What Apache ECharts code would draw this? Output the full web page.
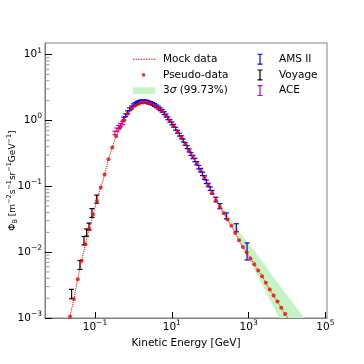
<!DOCTYPE html>
<html>
<head>
<meta charset="utf-8">
<script src="https://cdn.jsdelivr.net/npm/echarts@6/dist/echarts.min.js"></script>
<style>
html, body { margin: 0; padding: 0; background: #fff; }
#chart { width: 364px; height: 364px; }
</style>
</head>
<body>
<div id="chart"></div>
<script>
// model curve / pseudo-data energies [GeV]
const energy = [0.0224, 0.0282, 0.0355, 0.0447, 0.0562, 0.0708, 0.0891, 0.112, 0.141, 0.178,
  0.224, 0.282, 0.355, 0.447, 0.562, 0.708, 0.891, 1.12, 1.41, 1.78,
  2.24, 2.82, 3.55, 4.47, 5.62, 7.08, 8.91, 11.2, 14.1, 17.8,
  22.4, 28.2, 35.5, 44.7, 56.2, 70.8, 89.1, 112, 141, 178,
  224, 282, 355, 447, 562, 708, 891, 1120, 1410, 1780,
  2240, 2820, 3550, 4470, 5620, 7080, 8910, 11200, 17800, 31600];
const mockFlux = [1.05e-3, 1.95e-3, 3.89e-3, 7.41e-3, 0.0132, 0.0224, 0.0372, 0.0603, 0.0955, 0.151,
  0.257, 0.389, 0.575, 0.776, 1.00, 1.26, 1.50, 1.68, 1.80, 1.87,
  1.86, 1.79, 1.67, 1.53, 1.38, 1.19, 0.989, 0.822, 0.676, 0.550,
  0.437, 0.347, 0.279, 0.221, 0.174, 0.135, 0.104, 0.0794, 0.0610, 0.0484,
  0.0389, 0.0313, 0.0251, 0.0195, 0.0151, 0.0120, 9.89e-3, 8.04e-3, 6.53e-3, 5.25e-3,
  4.32e-3, 3.43e-3, 2.72e-3, 2.19e-3, 1.78e-3, 1.43e-3, 1.15e-3, 9.33e-4, 6.17e-4, 3.63e-4];
// pseudo-data sits on the mock curve up to ~11 TeV
const pseudoEnergy = energy.slice(0, 58);
const pseudoFlux = mockFlux.slice(0, 58);
// 3 sigma band
const bandHigh = [1.08e-3, 2.00e-3, 4.00e-3, 7.62e-3, 0.0136, 0.0230, 0.0382, 0.0619, 0.0982, 0.155,
  0.264, 0.400, 0.591, 0.798, 1.03, 1.30, 1.54, 1.73, 1.85, 1.92,
  1.91, 1.84, 1.72, 1.57, 1.42, 1.22, 1.02, 0.845, 0.695, 0.565,
  0.449, 0.357, 0.287, 0.227, 0.179, 0.139, 0.107, 0.0816, 0.0646, 0.0531,
  0.0447, 0.0376, 0.0316, 0.0257, 0.0209, 0.0172, 0.0146, 0.0123, 0.0104, 8.61e-3,
  7.33e-3, 6.03e-3, 4.95e-3, 4.12e-3, 3.47e-3, 2.88e-3, 2.40e-3, 2.02e-3, 1.43e-3, 9.12e-4];
const bandLow = [1.02e-3, 1.90e-3, 3.78e-3, 7.21e-3, 0.0128, 0.0218, 0.0361, 0.0586, 0.0929, 0.147,
  0.250, 0.378, 0.559, 0.755, 0.973, 1.23, 1.46, 1.63, 1.75, 1.82,
  1.81, 1.74, 1.62, 1.49, 1.34, 1.16, 0.962, 0.800, 0.658, 0.535,
  0.425, 0.338, 0.271, 0.215, 0.169, 0.131, 0.101, 0.0772, 0.0593, 0.0470,
  0.0377, 0.0302, 0.0242, 0.0187, 0.0144, 0.0112, 8.81e-3, 6.92e-3, 5.37e-3, 4.17e-3,
  3.27e-3, 2.48e-3, 1.91e-3, 1.46e-3, 1.15e-3, 8.81e-4, 6.76e-4, 5.31e-4, 3.24e-4, 1.72e-4];

// AMS II
const amsEnergy = [0.562, 0.631, 0.708, 0.794, 0.891, 1.00, 1.12, 1.26, 1.41, 1.58,
  1.78, 2.00, 2.24, 2.51, 2.82, 3.16, 3.55, 3.98, 4.47, 5.01,
  5.62, 6.31, 7.08, 7.94, 8.91, 10.0, 11.2, 12.6, 14.1, 15.8,
  17.8, 20.0, 22.4, 25.1, 28.2, 31.6, 35.5, 39.8, 44.7, 50.1,
  56.2, 63.1, 70.8, 79.4, 89.1, 100, 112, 141, 178, 263, 479, 912];
const amsFlux = [1.07, 1.20, 1.33, 1.48, 1.58, 1.70, 1.78, 1.86, 1.91, 1.95,
  1.95, 1.95, 1.93, 1.88, 1.84, 1.78, 1.72, 1.64, 1.57, 1.48,
  1.40, 1.29, 1.19, 1.08, 0.989, 0.902, 0.832, 0.750, 0.676, 0.610,
  0.556, 0.495, 0.442, 0.394, 0.351, 0.309, 0.279, 0.251, 0.224, 0.195,
  0.176, 0.155, 0.136, 0.117, 0.105, 0.0923, 0.0813, 0.0631, 0.0501, 0.0357, 0.0237, 0.0107];
const amsErr = [0.054, 0.060, 0.067, 0.074, 0.079, 0.085, 0.089, 0.093, 0.096, 0.098,
  0.098, 0.098, 0.097, 0.094, 0.092, 0.089, 0.086, 0.082, 0.079, 0.074,
  0.070, 0.065, 0.060, 0.054, 0.049, 0.045, 0.042, 0.038, 0.034, 0.031,
  0.028, 0.025, 0.022, 0.020, 0.018, 0.015, 0.017, 0.015, 0.013, 0.012,
  0.011, 0.0093, 0.0082, 0.0070, 0.0063, 0.0055, 0.0049, 0.0050, 0.0045, 0.0037, 0.0033, 0.0031];

// Voyager
const voyEnergy = [0.0246, 0.0407, 0.0518, 0.0608, 0.0698, 0.0835, 0.111];
const voyFlux = [2.34e-3, 6.46e-3, 0.0151, 0.0200, 0.0246, 0.0398, 0.0645];
const voyErr = [3.8e-4, 1.0e-3, 2.2e-3, 2.5e-3, 3.0e-3, 6.0e-3, 9.0e-3];

// ACE
const aceEnergy = [0.331, 0.372, 0.417, 0.468, 0.525];
const aceFlux = [0.646, 0.724, 0.794, 0.851, 0.912];
const aceErr = [0.039, 0.043, 0.048, 0.051, 0.055];

// axis ranges and ticks
const xRange = [0.005, 110000];
const yRange = [0.001, 15];
const xMajor = [0.1, 10, 1000, 100000];
const xExp = ['−1', '1', '3', '5'];
const yMajor = [0.001, 0.01, 0.1, 1, 10];
const yExp = ['−3', '−2', '−1', '0', '1'];
const yMinor = [0.002, 0.003, 0.004, 0.005, 0.006, 0.007, 0.008, 0.009,
  0.02, 0.03, 0.04, 0.05, 0.06, 0.07, 0.08, 0.09,
  0.2, 0.3, 0.4, 0.5, 0.6, 0.7, 0.8, 0.9,
  2, 3, 4, 5, 6, 7, 8, 9];

const FONT = 'DejaVu Sans';
const SPINE = '#808080';

function expLabel(values, exps) {
    return function (v) {
        for (let i = 0; i < values.length; i++) {
            if (Math.abs(Math.log10(v / values[i])) < 0.01) return '{b|10}{s|' + exps[i] + '}';
        }
        return '';
    };
}

const tickRich = {
    b: { fontFamily: FONT, fontSize: 10.5, color: '#000' },
    s: { fontFamily: FONT, fontSize: 7.5, color: '#000', padding: [0, 0, 8, 0] }
};

// error bars: vertical line + caps
function errorBar(color) {
    return function (params, api) {
        const x = api.value(0), y = api.value(1), e = api.value(2);
        const top = api.coord([x, y + e]);
        const bot = api.coord([x, y - e]);
        const st = { stroke: color, lineWidth: 1.2 };
        return {
            type: 'group',
            children: [
                { type: 'line', shape: { x1: top[0], y1: top[1], x2: bot[0], y2: bot[1] }, style: st },
                { type: 'line', shape: { x1: top[0] - 2.5, y1: top[1], x2: top[0] + 2.5, y2: top[1] }, style: st },
                { type: 'line', shape: { x1: bot[0] - 2.5, y1: bot[1], x2: bot[0] + 2.5, y2: bot[1] }, style: st }
            ]
        };
    };
}

function bandPolygon(params, api) {
    if (params.dataIndex !== 0) return null;
    const pts = [];
    for (let i = 0; i < energy.length; i++) pts.push(api.coord([energy[i], bandHigh[i]]));
    for (let i = energy.length - 1; i >= 0; i--) pts.push(api.coord([energy[i], bandLow[i]]));
    return { type: 'polygon', shape: { points: pts }, style: { fill: '#c4f3c4' } };
}

// short grey minor ticks on the left spine (data item = [xMin, tickValue])
function minorTick(params, api) {
    const p = api.coord([api.value(0), api.value(1)]);
    return {
        type: 'line',
        shape: { x1: p[0], y1: p[1], x2: p[0] + 4.5, y2: p[1] },
        style: { stroke: '#999999', lineWidth: 1 }
    };
}

const iconI = 'path://M0,0M26,12M9.5,0.5h5v1.1h-1.9v8.8h1.9v1.1h-5v-1.1h1.9v-8.8h-1.9z';
const iconDots = 'path://M0,0M25,12M0,5.6h1.4v0.9h-1.4zM2.6,5.6h1.4v0.9h-1.4zM5.2,5.6h1.4v0.9h-1.4zM7.8,5.6h1.4v0.9h-1.4zM10.4,5.6h1.4v0.9h-1.4zM13,5.6h1.4v0.9h-1.4zM15.6,5.6h1.4v0.9h-1.4zM18.2,5.6h1.4v0.9h-1.4zM20.8,5.6h1.4v0.9h-1.4z';
const iconDot = 'path://M0,0M25,12M8.7,6a1.8,1.8 0 1,0 3.6,0a1.8,1.8 0 1,0 -3.6,0z';
const iconRect = 'path://M0,0M25,12M0,2.7h22v6.6h-22z';

const legendText = {
    fontFamily: FONT, fontSize: 10.5, color: '#000',
    rich: { i: { fontFamily: FONT, fontSize: 10.5, fontStyle: 'italic', color: '#000' } }
};

const option = {
    animation: false,
    backgroundColor: '#fff',
    grid: {
        left: 45, right: 37, top: 43, bottom: 46,
        show: true, borderColor: SPINE, borderWidth: 1,
        outerBoundsMode: 'none'
    },
    legend: [
        {
            left: 133, top: 53.2, padding: 0, orient: 'vertical', selectedMode: false,
            itemWidth: 25, itemHeight: 12, itemGap: 3.7,
            textStyle: legendText,
            formatter: name => name.replace('σ', '{i|σ}'),
            data: [
                { name: 'Mock data', icon: iconDots },
                { name: 'Pseudo-data', icon: iconDot },
                { name: '3σ (99.73%)', icon: iconRect }
            ]
        },
        {
            left: 248, top: 53.2, padding: 0, orient: 'vertical', selectedMode: false,
            itemWidth: 26, itemHeight: 12, itemGap: 3.7,
            textStyle: legendText,
            data: [
                { name: 'AMS II', icon: iconI },
                { name: 'Voyage', icon: iconI },
                { name: 'ACE', icon: iconI }
            ]
        }
    ],
    xAxis: {
        type: 'log', logBase: 10, min: xRange[0], max: xRange[1],
        name: 'Kinetic Energy [GeV]', nameLocation: 'middle', nameGap: 14,
        nameTextStyle: { fontFamily: FONT, fontSize: 10.5, color: '#000' },
        axisLine: { lineStyle: { color: SPINE, width: 1 } },
        axisTick: { customValues: xMajor, inside: true, length: 6, lineStyle: { color: '#000', width: 1 } },
        axisLabel: { customValues: xMajor, margin: 1, formatter: expLabel(xMajor, xExp), rich: tickRich },
        splitLine: { show: false }
    },
    yAxis: {
        type: 'log', logBase: 10, min: yRange[0], max: yRange[1],
        name: '{n|Φ}{sub|B}{n| [m}{sup|−2}{n|s}{sup|−1}{n|sr}{sup|−1}{n|GeV}{sup|−1}{n|]}',
        nameLocation: 'middle', nameRotate: 90, nameGap: 25, nameMoveOverlap: false,
        nameTextStyle: {
            fontFamily: FONT, fontSize: 9, color: '#000',
            rich: {
                n: { fontFamily: FONT, fontSize: 9, color: '#000' },
                sup: { fontFamily: FONT, fontSize: 6.5, color: '#000', padding: [0, 0, 7, 0] },
                sub: { fontFamily: FONT, fontSize: 6.5, color: '#000', padding: [4, 0, 0, 0] }
            }
        },
        axisLine: { lineStyle: { color: SPINE, width: 1 } },
        axisTick: { customValues: yMajor, inside: true, length: 7, lineStyle: { color: '#000', width: 1 } },
        axisLabel: { customValues: yMajor, margin: 3, formatter: expLabel(yMajor, yExp), rich: tickRich },
        splitLine: { show: false }
    },
    series: [
        {
            name: '3σ (99.73%)', type: 'custom', clip: true,
            itemStyle: { color: '#c4f3c4' },
            encode: { x: 0, y: [1, 2] },
            data: energy.map((e, i) => [e, bandLow[i], bandHigh[i]]),
            renderItem: bandPolygon
        },
        {
            name: 'Mock data', type: 'line', showSymbol: false, symbol: 'none',
            itemStyle: { color: '#ff0000' },
            lineStyle: { color: '#ff0000', width: 1, type: 'dotted' },
            data: energy.map((e, i) => [e, mockFlux[i]])
        },
        {
            name: 'AMS II', type: 'custom', clip: true,
            itemStyle: { color: '#0000ff' },
            encode: { x: 0, y: 1 },
            data: amsEnergy.map((e, i) => [e, amsFlux[i], amsErr[i]]),
            renderItem: errorBar('#0000ff')
        },
        {
            name: 'Voyage', type: 'custom', clip: true,
            itemStyle: { color: '#000000' },
            encode: { x: 0, y: 1 },
            data: voyEnergy.map((e, i) => [e, voyFlux[i], voyErr[i]]),
            renderItem: errorBar('#000000')
        },
        {
            name: 'ACE', type: 'custom', clip: true,
            itemStyle: { color: '#bf00bf' },
            encode: { x: 0, y: 1 },
            data: aceEnergy.map((e, i) => [e, aceFlux[i], aceErr[i]]),
            renderItem: errorBar('#bf00bf')
        },
        {
            name: 'Pseudo-data', type: 'scatter', symbol: 'circle', symbolSize: 4,
            itemStyle: { color: '#ff0000' },
            data: pseudoEnergy.map((e, i) => [e, pseudoFlux[i]])
        },
        {
            name: 'minor-ticks', type: 'custom', silent: true, z: 5,
            encode: { x: 0, y: 1 },
            data: yMinor.map(v => [xRange[0], v]),
            renderItem: minorTick
        }
    ]
};

const chart = echarts.init(document.getElementById('chart'));
chart.setOption(option);
</script>
</body>
</html>
